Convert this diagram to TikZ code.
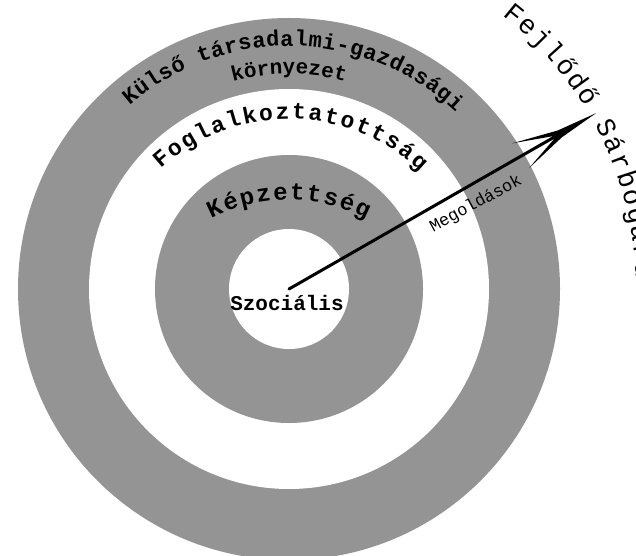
\documentclass[tikz,border=0pt]{standalone}
\usepackage{fontspec}
\setmainfont{Liberation Mono}
\newfontfamily\typew{Liberation Mono}
\usetikzlibrary{decorations.text,calc}
\tikzset{
  ringgray/.style={fill=black!42, draw=none},
  ringwhite/.style={fill=white, draw=none},
  shaft/.style={line width=3pt, line cap=round},
  headfill/.style={fill=black},
}
\begin{document}
\begin{tikzpicture}[x=1pt,y=1pt]
\useasboundingbox (0,0) rectangle (636,555);
\fill[white] (0,0) rectangle (636,555);
\coordinate (C) at (289,266);
\coordinate (Cf) at (289,246);
\coordinate (Ck) at (289,185);
% rings
\fill[ringgray] (C) circle[radius=271];
\fill[ringwhite] (C) circle[radius=200];
\fill[ringgray] (C) circle[radius=134];
\fill[ringwhite] (C) circle[radius=60];
% curved labels
\path[decorate, decoration={text along path, text align=fit to path,
  text={|\typew\bfseries\fontsize{22}{22}\selectfont|Külső társadalmi-gazdasági}}]
  ($(C)+(131:243)$) arc[start angle=131, end angle=46.7, radius=243];
\path[decorate, decoration={text along path, text align=center,
  text={|\typew\bfseries\fontsize{21}{21}\selectfont|környezet}}]
  ($(C)+(150:215)$) arc[start angle=150, end angle=30, radius=215];
\path[decorate, decoration={text along path, text align=fit to path,
  text={|\typew\bfseries\fontsize{23}{23}\selectfont|Foglalkoztatottság}}]
  ($(Cf)+(132.5:190)$) arc[start angle=132.5, end angle=46.5, radius=190];
\path[decorate, decoration={text along path, text align=fit to path,
  text={|\typew\bfseries\fontsize{24}{24}\selectfont|Képzettség}}]
  ($(Ck)+(117.2:170)$) arc[start angle=117.2, end angle=62.9, radius=170];
\path[decorate, decoration={text along path, text align=fit to path,
  text={|\typew\fontsize{27}{27}\selectfont|Fejlődő Sárbogárd}}]
  ($(C)+(52.1:347)$) arc[start angle=52.1, end angle=1.7, radius=347];
% centre label
\node[font=\typew\bfseries\fontsize{21}{21}\selectfont, inner sep=0pt] (szoc) at (287,252) {Szociális};
% arrow
\coordinate (tip) at ($(C)+(29.8:354)$);
\draw[shaft, shorten >=45pt] (C) -- (tip);
\begin{scope}[shift={(tip)}, rotate=29.8]
  \fill[headfill] (0,0) -- (-42,4) -- (-88,15.5) -- (-50,1.8) -- (-50,-1.8)
     -- (-86,-14.5) -- (-42,-4) -- cycle;
\end{scope}
\node[font=\typew\fontsize{17}{17}\selectfont, rotate=28.5, inner sep=0pt] (meg) at (476,351) {Megoldások};
\end{tikzpicture}
\end{document}
